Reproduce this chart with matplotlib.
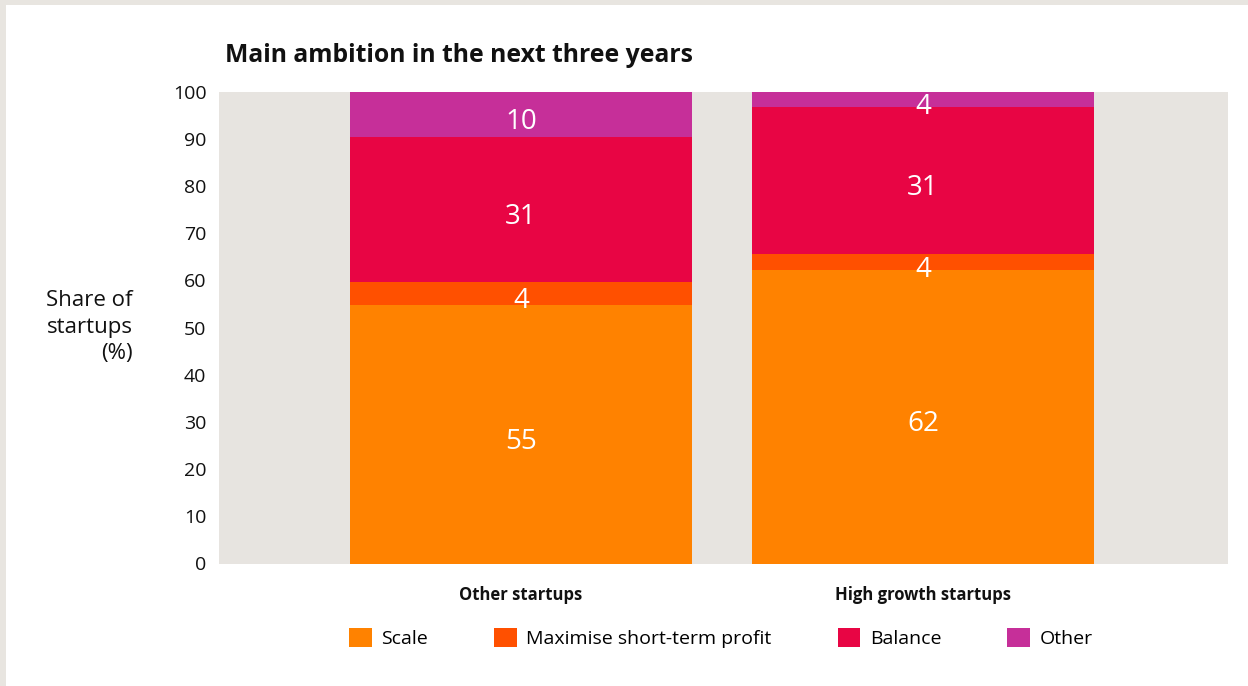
import matplotlib
matplotlib.use("Agg")
import matplotlib.pyplot as plt
from matplotlib.patches import Patch, Rectangle
import numpy as np

plt.rcParams['font.family'] = ['Open Sans', 'DejaVu Sans']

categories = ["Other startups", "High growth startups"]
series_names = ["Scale", "Maximise short-term profit", "Balance", "Other"]
scale_vals = [54.8, 62.2]
profit_vals = [4.9, 3.3]
balance_vals = [30.6, 31.3]
other_vals = [9.7, 3.2]
scale_labels = ["55", "62"]
profit_labels = ["4", "4"]
balance_labels = ["31", "31"]
other_labels = ["10", "4"]
y_ticks = [0, 10, 20, 30, 40, 50, 60, 70, 80, 90, 100]

colors = ["#ff8200", "#ff5000", "#e80544", "#c62f99"]

W, H = 1248, 686
fig = plt.figure(figsize=(W / 100, H / 100), dpi=100)
fig.patch.set_facecolor("#e8e5e0")
fig.add_artist(Rectangle((6 / W, 0), 1 - 6 / W, 1 - 5 / H, transform=fig.transFigure,
                         facecolor="white", edgecolor="none", zorder=0))

ax = fig.add_axes([219 / W, (H - 563.5) / H, 1009 / W, (563.5 - 91.7) / H])
ax.set_facecolor("#e7e4e0")

x = np.arange(len(categories))
series = [scale_vals, profit_vals, balance_vals, other_vals]
labels = [scale_labels, profit_labels, balance_labels, other_labels]
bottom = np.zeros(len(categories))
for vals, labs, col, name in zip(series, labels, colors, series_names):
    vals = np.array(vals)
    ax.bar(x, vals, bottom=bottom, width=0.85, color=col, label=name, linewidth=0)
    for xi, b, v, lab in zip(x, bottom, vals, labs):
        ax.text(xi, b + v / 2 - 1.6, lab, ha="center", va="center", color="white",
                fontsize=20)
    bottom = bottom + vals

ax.set_xlim(-0.751, 1.759)
ax.set_ylim(0, 100)
ax.set_yticks(y_ticks)
ax.set_xticks(x)
ax.set_xticklabels(categories, fontsize=12, fontweight="bold", color="#111111")
ax.tick_params(axis="y", length=0, pad=9, labelsize=14, labelcolor="#111111")
ax.tick_params(axis="x", length=0, pad=16)
for s in ax.spines.values():
    s.set_visible(False)

fig.text(225 / W, 1 - 55 / H, "Main ambition in the next three years", ha="left", va="center",
         fontsize=17.8, fontweight="bold", color="#111111")
fig.text(133 / W, 1 - 327 / H, "Share of\nstartups\n(%)", ha="right", va="center",
         multialignment="right", fontsize=16, linespacing=1.33, color="#111111")

handles = [Patch(facecolor=c, edgecolor="none") for c in colors]
fig.legend(handles, series_names, loc="center", bbox_to_anchor=(721 / W, 1 - 638 / H),
           ncol=4, frameon=False, fontsize=14, handlelength=1.15, handleheight=1.15,
           handletextpad=0.5, columnspacing=3.4)

fig.savefig("out.png", dpi=100, facecolor=fig.get_facecolor())
